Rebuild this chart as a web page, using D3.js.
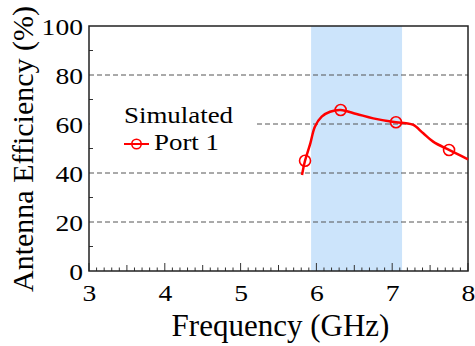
<!DOCTYPE html>
<html>
<head>
<meta charset="utf-8">
<script src="https://cdn.jsdelivr.net/npm/d3@7"></script>
<style>
  body { margin: 0; background: #fff; }
  svg text { font-family: "Liberation Serif", "Times New Roman", Tinos, "DejaVu Serif", serif !important; }
</style>
</head>
<body>
<div id="wrapper"></div>
<script>
// simulated efficiency curve (GHz, %)
const freq = [5.81, 5.85, 5.92, 5.98, 6.07, 6.18, 6.32, 6.53, 6.75, 7.05, 7.18, 7.28, 7.41, 7.54, 7.75, 8.0];
const eff  = [39.2, 45.0, 52.1, 58.9, 63.0, 65.0, 65.7, 64.1, 62.3, 60.7, 60.3, 59.6, 56.2, 52.8, 49.4, 45.6];

// marker positions
const markerFreq = [5.85, 6.32, 7.05, 7.75];
const markerEff  = [45.0, 65.7, 60.7, 49.4];

// shaded band
const band = [5.93, 7.13];

const xTicks = [3, 4, 5, 6, 7, 8];
const yTicks = [0, 20, 40, 60, 80, 100];
const gridValues = [20, 40, 60, 80];

const legendTitle = "Simulated";
const seriesName = "Port 1";

let dimensions = {
    width: 475,
    height: 346,
    margin: { top: 26, right: 7, bottom: 75, left: 89 }
};
dimensions.boundedWidth = dimensions.width - dimensions.margin.left - dimensions.margin.right;
dimensions.boundedHeight = dimensions.height - dimensions.margin.top - dimensions.margin.bottom;

const stretch = 1.2; // labels in the source look wider than plain Times

const svgRoot = d3.select("#wrapper")
    .append("svg")
    .attr("width", dimensions.width)
    .attr("height", dimensions.height);

const svg = svgRoot.append("g")
    .attr("transform", "translate(" + dimensions.margin.left + "," + dimensions.margin.top + ")");

const xScale = d3.scaleLinear().domain([3, 8]).range([0, dimensions.boundedWidth]);
const yScale = d3.scaleLinear().domain([0, 100]).range([dimensions.boundedHeight, 0]);

// band
svg.append("rect")
    .attr("x", xScale(band[0]))
    .attr("y", 0)
    .attr("width", xScale(band[1]) - xScale(band[0]))
    .attr("height", dimensions.boundedHeight)
    .attr("fill", "#cce4fb");

// grid lines
svg.append("g")
    .selectAll("line")
    .data(gridValues)
    .enter()
    .append("line")
    .attr("x1", 0)
    .attr("x2", dimensions.boundedWidth)
    .attr("y1", d => yScale(d))
    .attr("y2", d => yScale(d))
    .attr("stroke", "#555")
    .attr("stroke-width", 1)
    .attr("stroke-dasharray", "5,3");

// legend background hides part of the 60 grid line
svg.append("rect")
    .attr("x", 1)
    .attr("y", 66)
    .attr("width", 166)
    .attr("height", 72)
    .attr("fill", "#fff");

// minor ticks on x (inward)
const xMinor = d3.range(3, 8.001, 0.1);
svg.append("g")
    .selectAll("line")
    .data(xMinor)
    .enter()
    .append("line")
    .attr("x1", d => xScale(d))
    .attr("x2", d => xScale(d))
    .attr("y1", dimensions.boundedHeight)
    .attr("y2", d => {
        const r = Math.round(d * 10) % 10;
        return dimensions.boundedHeight - (r === 0 ? 8 : r === 5 ? 6 : 3.5);
    })
    .attr("stroke", "#333")
    .attr("stroke-width", 1);

// minor ticks on y (inward)
const yMinor = d3.range(10, 100, 10);
svg.append("g")
    .selectAll("line")
    .data(yMinor)
    .enter()
    .append("line")
    .attr("x1", 0)
    .attr("x2", d => (d % 20 === 0 ? 0 : 4))
    .attr("y1", d => yScale(d))
    .attr("y2", d => yScale(d))
    .attr("stroke", "#333")
    .attr("stroke-width", 1);

// frame
svg.append("rect")
    .attr("x", 0)
    .attr("y", 0)
    .attr("width", dimensions.boundedWidth)
    .attr("height", dimensions.boundedHeight)
    .attr("fill", "none")
    .attr("stroke", "#222")
    .attr("stroke-width", 1.5);

// tick labels
const xAxis = svg.append("g")
    .attr("transform", `translate(0,${dimensions.boundedHeight})`)
    .call(d3.axisBottom(xScale).tickValues(xTicks).tickSize(0).tickFormat(d3.format("d")));
xAxis.select(".domain").remove();
xAxis.selectAll("text")
    .attr("x", 0)
    .attr("y", 30.5)
    .attr("dy", null)
    .attr("transform", `scale(${stretch},1)`)
    .attr("font-size", 23)
    .attr("fill", "#000");

const yAxis = svg.append("g")
    .call(d3.axisLeft(yScale).tickValues(yTicks).tickSize(0).tickFormat(d3.format("d")));
yAxis.select(".domain").remove();
yAxis.selectAll("text")
    .attr("x", 0)
    .attr("dy", "0.36em")
    .attr("transform", `translate(-6,0) scale(${stretch},1)`)
    .attr("font-size", 23)
    .attr("fill", "#000");

// axis titles
svgRoot.append("text")
    .attr("x", dimensions.margin.left + dimensions.boundedWidth / 2 + 2)
    .attr("y", 336)
    .attr("text-anchor", "middle")
    .attr("font-size", 31)
    .text("Frequency (GHz)");

svgRoot.append("text")
    .attr("transform", "translate(33,149) rotate(-90)")
    .attr("text-anchor", "middle")
    .attr("font-size", 30)
    .text("Antenna Efficiency (%)");

// curve
const curveData = freq.map((f, i) => ({ f: f, e: eff[i] }));
svg.append("path")
    .datum(curveData)
    .attr("d", d3.line()
        .x(d => xScale(d.f))
        .y(d => yScale(d.e))
        .curve(d3.curveCatmullRom.alpha(0.5)))
    .attr("fill", "none")
    .attr("stroke", "#ff0000")
    .attr("stroke-width", 2.5);

const markerData = markerFreq.map((f, i) => ({ f: f, e: markerEff[i] }));
svg.append("g")
    .selectAll("circle")
    .data(markerData)
    .enter()
    .append("circle")
    .attr("cx", d => xScale(d.f))
    .attr("cy", d => yScale(d.e))
    .attr("r", 5.5)
    .attr("fill", "none")
    .attr("stroke", "#ff0000")
    .attr("stroke-width", 1.6);

// legend
const legend = svgRoot.append("g");
legend.append("text")
    .attr("transform", "translate(124,123) scale(1.17,1)")
    .attr("font-size", 23)
    .text(legendTitle);
legend.append("line")
    .attr("x1", 124)
    .attr("x2", 149)
    .attr("y1", 144)
    .attr("y2", 144)
    .attr("stroke", "#ff0000")
    .attr("stroke-width", 2);
legend.append("circle")
    .attr("cx", 136.5)
    .attr("cy", 144)
    .attr("r", 4.7)
    .attr("fill", "none")
    .attr("stroke", "#ff0000")
    .attr("stroke-width", 1.6);
legend.append("text")
    .attr("transform", "translate(154,150) scale(1.17,1)")
    .attr("font-size", 23)
    .text(seriesName);
</script>
</body>
</html>
